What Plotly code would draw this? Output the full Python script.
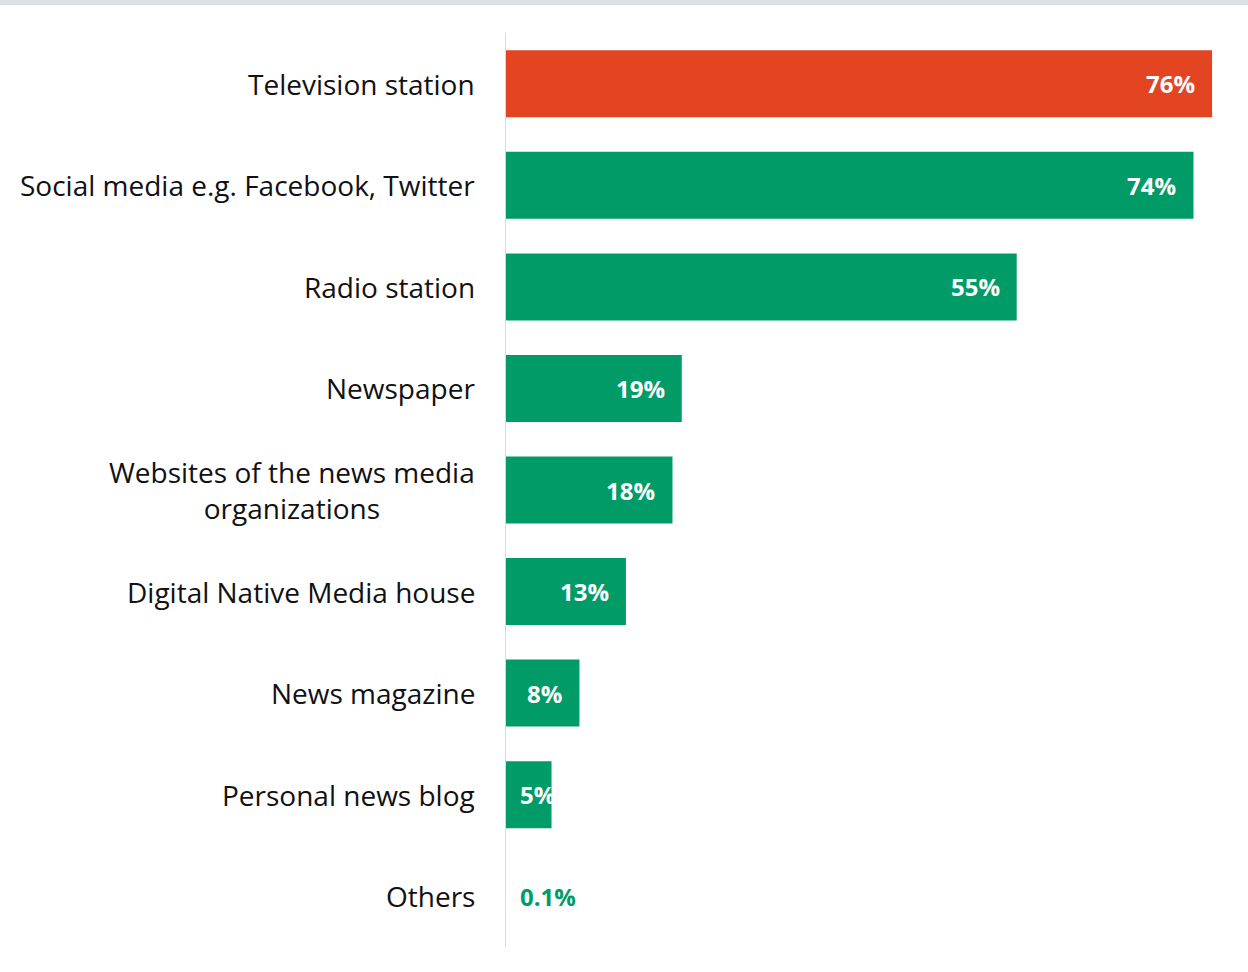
import plotly.graph_objects as go

categories = [
    "Television station",
    "Social media e.g. Facebook, Twitter",
    "Radio station",
    "Newspaper",
    "Websites of the news media<br>organizations",
    "Digital Native Media house",
    "News magazine",
    "Personal news blog",
    "Others",
]
values = [76, 74, 55, 19, 18, 13, 8, 5, 0.1]
value_labels = ["76%", "74%", "55%", "19%", "18%", "13%", "8%", "5%", "0.1%"]

RED = "#E34522"
GREEN = "#009B67"
bar_colors = [RED] + [GREEN] * (len(values) - 1)

W, H = 1248, 972
M_L, M_R, M_T, M_B = 505, 8, 33, 25
plot_h = H - M_T - M_B

fig = go.Figure(
    go.Bar(
        x=values,
        y=categories,
        orientation="h",
        marker=dict(color=bar_colors, line=dict(width=0)),
        hoverinfo="skip",
    )
)

annotations = []
# category labels, right-aligned next to the axis, multi-line centred
for cat in categories:
    annotations.append(dict(
        x=0, xref="paper", y=cat, yref="y",
        text=cat, showarrow=False, xanchor="right", align="center",
        xshift=-28, font=dict(family="Open Sans", size=28, color="#111111"),
    ))

# value labels: inside end for wide bars, pinned near the axis for narrow ones
for cat, v, lab in zip(categories, values, value_labels):
    if v >= 8:
        annotations.append(dict(
            x=v, y=cat, text=lab, showarrow=False, xanchor="right",
            xshift=-15, font=dict(family="Open Sans", size=24, color="white", weight="bold"),
        ))
    else:
        color = "white" if v >= 1 else GREEN
        annotations.append(dict(
            x=0, y=cat, text=lab, showarrow=False, xanchor="left",
            xshift=13, font=dict(family="Open Sans", size=24, color=color, weight="bold"),
        ))

fig.update_layout(
    width=W, height=H,
    margin=dict(l=M_L, r=M_R, t=M_T, b=M_B),
    paper_bgcolor="white", plot_bgcolor="white",
    bargap=0.34,
    showlegend=False,
    xaxis=dict(range=[0, 79], visible=False, showgrid=False, zeroline=False),
    yaxis=dict(
        autorange="reversed", showticklabels=False, showgrid=False,
        zeroline=False, showline=False, ticks="",
    ),
    annotations=annotations,
    shapes=[
        # thin grey band along the top edge
        dict(
            type="rect", xref="paper", yref="paper",
            x0=-M_L / (W - M_L - M_R), x1=1 + M_R / (W - M_L - M_R),
            y0=1 + (M_T - 5) / plot_h, y1=1 + M_T / plot_h,
            fillcolor="#dde0e3", line=dict(width=0), layer="below",
        ),
        # category axis line at zero
        dict(
            type="line", xref="x", yref="paper", x0=0, x1=0, y0=0, y1=1,
            line=dict(color="#d9d9d9", width=2), layer="above",
        ),
    ],
)

fig.write_html("out.html")
